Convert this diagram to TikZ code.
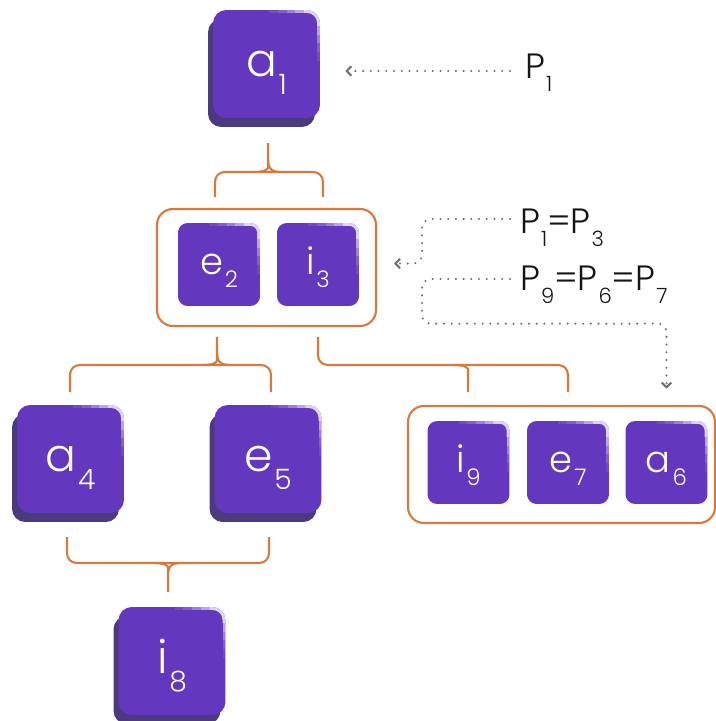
\documentclass[tikz,border=0pt]{standalone}
\usepackage{fontspec}
\IfFontExistsTF{Poppins Light}{\setmainfont{Poppins Light}}{\setmainfont{Poppins}}
\usetikzlibrary{shadows,arrows.meta,calc}
\definecolor{keyface}{HTML}{6338BE}
\definecolor{keyside}{HTML}{4B3A7E}
\definecolor{glossc}{HTML}{F4F0FF}
\definecolor{brc}{HTML}{D67A3E}
\definecolor{dotc}{HTML}{707070}
\definecolor{txt}{HTML}{151515}
\newcommand{\bk}[2]{#1\kern1pt\raisebox{-10.5pt}{\smash{\fontsize{16}{16}\selectfont #2}}}
\newcommand{\sk}[2]{#1\kern1pt\raisebox{-7.5pt}{\smash{\fontsize{13}{13}\selectfont #2}}}
\newcommand{\pk}[1]{\kern0.5pt\raisebox{-7.4pt}{\smash{\fontsize{12}{12}\selectfont #1}}}
\begin{document}
\begin{tikzpicture}[x=0.02cm,y=-0.02cm,
  gloss/.style={path picture={
    \coordinate (NE) at (path picture bounding box.north east);
    \draw[glossc, opacity=.85, line width=3.2pt, rounded corners=#1]
      ($(NE)+(-9pt,0)$) -- (NE) -- ($(NE)+(0,-9pt)$);
    \foreach \o/\a/\b in {.6/9/14,.4/14/19,.22/19/24,.1/24/29}{
      \draw[glossc, opacity=\o, line width=3.2pt] ($(NE)+(-\a pt,0)$) -- ($(NE)+(-\b pt,0)$);
      \draw[glossc, opacity=\o, line width=3.2pt] ($(NE)+(0,-\a pt)$) -- ($(NE)+(0,-\b pt)$);
    }}},
  bigtile/.style={fill=keyface, rounded corners=7.5pt, minimum width=2.14cm, minimum height=2.16cm,
    inner sep=0pt, text=white, font=\fontsize{26}{26}\selectfont, text height=14pt, text depth=0pt,
    general shadow={fill=keyside, shadow xshift=-0.1cm, shadow yshift=-0.18cm}, gloss=7.5pt},
  smalltile/.style={fill=keyface, rounded corners=5.5pt, minimum width=1.64cm, minimum height=1.66cm,
    inner sep=0pt, text=white, font=\fontsize{21}{21}\selectfont, text height=11.5pt, text depth=0pt, gloss=5.5pt},
  groupbox/.style={draw=brc, line width=1.2pt, rounded corners=9pt, inner sep=0pt},
  brace/.style={draw=brc, line width=1.2pt, rounded corners=5.5pt},
  dotline/.style={draw=dotc, line width=1.3pt, line cap=round, dash pattern=on 0pt off 4.4pt,
    rounded corners=5pt, -{Straight Barb[length=2.6pt,width=5.5pt,line width=1.2pt]}},
  plabel/.style={anchor=base west, inner sep=0pt, text=txt, font=\fontsize{20}{20}\selectfont}
]
\path[use as bounding box] (0,0) rectangle (716,721);
\clip (0,0) rectangle (716,721);
\fill[white] (0,0) rectangle (716,721);

% big keys
\node[bigtile] (a1) at (266.5,64) {\bk{a}{1}};
\node[bigtile] (a4) at (70.5,459) {\bk{a}{4}};
\node[bigtile] (e5) at (268,459) {\bk{e}{5}};
\node[bigtile] (i8) at (172,661) {\bk{i}{8}};

% group 1
\node[groupbox, minimum width=4.38cm, minimum height=2.34cm] (g1) at (266.5,267.5) {};
\node[smalltile] (e2) at (219,264.5) {\sk{e}{2}};
\node[smalltile] (i3) at (318,264.5) {\sk{i}{3}};

% group 2
\node[groupbox, minimum width=6.14cm, minimum height=2.34cm] (g2) at (561.5,464.5) {};
\node[smalltile] (i9) at (468.5,462.5) {\sk{i}{9}};
\node[smalltile] (e7) at (568,462.5) {\sk{e}{7}};
\node[smalltile] (a6) at (666.5,462.5) {\sk{a}{6}};

% braces
\draw[brace] (215,197) -- (215,172) -- (323,172) -- (323,197);
\draw[brace] (268,143) -- (268,158) .. controls (268,169) and (265,172) .. (254,172);
\draw[brace] (268,158) .. controls (268,169) and (271,172) .. (282,172);

\draw[brace] (70,392) -- (70,365) -- (271,365) -- (271,392);
\draw[brace] (217,337) -- (217,351) .. controls (217,362) and (214,365) .. (203,365);
\draw[brace] (217,351) .. controls (217,362) and (220,365) .. (231,365);

\draw[brace] (318,337) -- (318,365) -- (568,365) -- (568,392);
\draw[brace] (454,365) .. controls (465,365) and (468,368) .. (468,379) -- (468,392);

\draw[brace] (67,537) -- (67,563) -- (269,563) -- (269,537);
\draw[brace] (168,592) -- (168,577) .. controls (168,566) and (165,563) .. (154,563);
\draw[brace] (168,577) .. controls (168,566) and (171,563) .. (182,563);

% labels
\node[plabel] (p1) at (525,78) {P\pk{1}};
\node[plabel] (p13) at (520,233) {P\pk{1}=P\pk{3}};
\node[plabel] (p967) at (520,290) {P\pk{9}=P\pk{6}=P\pk{7}};

% dotted connectors
\draw[dotline] ($(p1.base west)+(-15,-7)$) -- ($(a1.east |- p1.base)+(25,-7)$);
\draw[dotline] ($(p13.base west)+(-10,-14)$) -| ($(g1.east)+(45,-4)$) -- ($(g1.east)+(17,-4)$);
\draw[dotline] ($(p967.base west)+(-10,-11)$) -- ++(-88,0) |- ($(a6.north)+(0,-97)$) -- ($(a6.north)+(0,-32)$);
\end{tikzpicture}
\end{document}
